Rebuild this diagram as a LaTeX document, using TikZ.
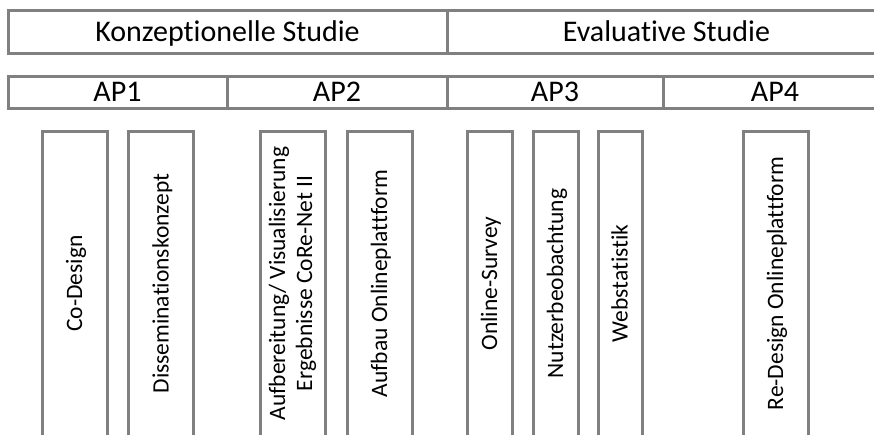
\documentclass[tikz,border=0pt]{standalone}
\usepackage{fontspec}
\setmainfont{Carlito}[RawFeature=-liga]
\usepackage{tikz}
\definecolor{rahmen}{HTML}{808080}

\begin{document}
\begin{tikzpicture}[x=1pt,y=-1pt]
                \clip (0,0) rectangle (874,434);
                \begin{scope}[every node/.style={draw=rahmen, line width=3pt, rectangle, inner sep=0pt, font=\fontsize{30}{34}\selectfont},
                              phase/.style={text height=19.3pt, text depth=0pt, minimum height=43},
                              paket/.style={text height=19.3pt, text depth=0pt, minimum height=32},
                              aufgabe/.style={rotate=90, minimum width=305, minimum height=65, font=\fontsize{23.5}{27}\selectfont, align=center},
                              zeile/.style={text height=15.1pt, text depth=0pt}]
                        % Studien
                        \node[phase, minimum width=439] (Konz) at (227.5,31.5) {Konzeptionelle Studie};
                        \node[phase, minimum width=439] (Eval) at (666.5,31.5) {Evaluative Studie};
                        % Arbeitspakete
                        \node[paket, minimum width=219] (AP1) at (117.5,92) {AP1};
                        \node[paket, minimum width=220] (AP2) at (337,92) {AP2};
                        \node[paket, minimum width=216] (AP3) at (555,92) {AP3};
                        \node[paket, minimum width=224] (AP4) at (775,92) {AP4};
                        % Aufgaben
                        \node[aufgabe, zeile] (CoDes) at (74.5,283.5) {Co-Design};
                        \node[aufgabe, zeile] (Dissem) at (161,283.5) {Disseminationskonzept};
                        \node[aufgabe] (Aufber) at (292.5,283.5) {Aufbereitung/ Visualisierung\\Ergebnisse CoRe-Net II};
                        \node[aufgabe, zeile] (Aufbau) at (379.5,283.5) {Aufbau Onlineplattform};
                        \node[aufgabe, zeile, minimum height=45] (Survey) at (489.5,283.5) {Online-Survey};
                        \node[aufgabe, zeile, minimum height=45] (Nutzer) at (555.5,283.5) {Nutzerbeobachtung};
                        \node[aufgabe, zeile, minimum height=44] (Webst) at (620,283.5) {Webstatistik};
                        \node[aufgabe, zeile] (ReDes) at (775.5,283.5) {Re-Design Onlineplattform};
               \end{scope}
        \end{tikzpicture}
\end{document}
